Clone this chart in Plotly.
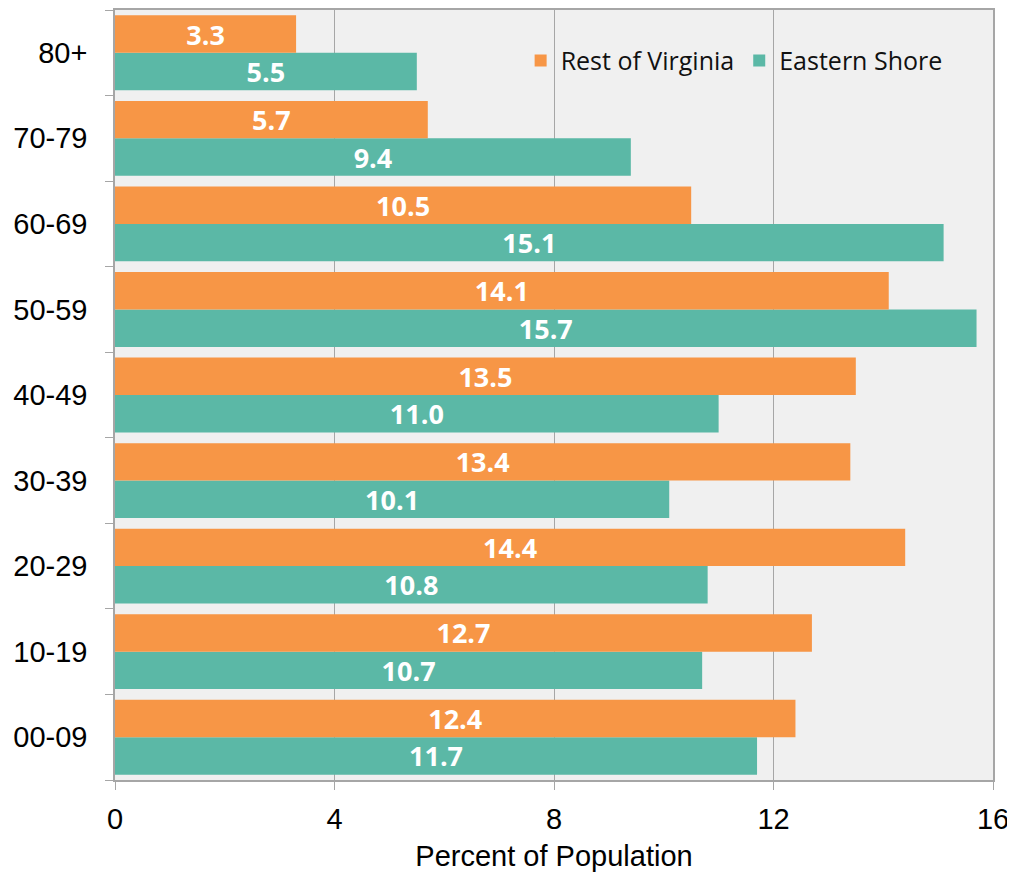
import plotly.graph_objects as go

age_groups = ["00-09", "10-19", "20-29", "30-39", "40-49", "50-59", "60-69", "70-79", "80+"]
rest_of_virginia = [12.4, 12.7, 14.4, 13.4, 13.5, 14.1, 10.5, 5.7, 3.3]
eastern_shore = [11.7, 10.7, 10.8, 10.1, 11.0, 15.7, 15.1, 9.4, 5.5]
x_ticks = [0, 4, 8, 12, 16]

ORANGE = "#F79646"
TEAL = "#5BB8A6"
label_font = dict(family="Open Sans", size=27, color="white", weight="bold")

fig = go.Figure()
fig.add_trace(go.Bar(
    y=age_groups, x=eastern_shore, orientation="h", name="Eastern Shore",
    marker=dict(color=TEAL, line=dict(width=0)),
    text=[f"{v:.1f}" for v in eastern_shore], textposition="inside",
    insidetextanchor="middle", textfont=label_font, legendrank=2,
    textangle=0, constraintext="none",
))
fig.add_trace(go.Bar(
    y=age_groups, x=rest_of_virginia, orientation="h", name="Rest of Virginia",
    marker=dict(color=ORANGE, line=dict(width=0)),
    text=[f"{v:.1f}" for v in rest_of_virginia], textposition="inside",
    insidetextanchor="middle", textfont=label_font, legendrank=1,
    textangle=0, constraintext="none",
))

fig.update_layout(
    width=1007, height=864,
    margin=dict(l=107, r=22, t=2, b=92, autoexpand=False),
    barmode="group", bargap=0.125, bargroupgap=0,
    plot_bgcolor="#F0F0F0", paper_bgcolor="white",
    legend=dict(
        orientation="h", x=0.462, y=0.934, xanchor="left", yanchor="middle",
        bgcolor="rgba(0,0,0,0)", font=dict(family="Open Sans", size=25, color="#111"),
        itemwidth=30, tracegroupgap=0,
    ),
    xaxis=dict(
        range=[0, 16], tickvals=x_ticks, ticktext=[str(t) for t in x_ticks],
        showgrid=True, gridcolor="#A6A6A6", gridwidth=1,
        showline=True, linecolor="#A6A6A6", linewidth=1.5, mirror=True,
        ticks="outside", ticklen=8, tickcolor="#A6A6A6",
        tickfont=dict(family="Liberation Sans", size=29, color="black"),
        ticklabelstandoff=4,
        zeroline=False, automargin=False,
        title=dict(text="Percent of Population", standoff=14,
                   font=dict(family="Liberation Sans", size=29, color="black")),
    ),
    yaxis=dict(
        type="category", categoryorder="array", categoryarray=age_groups,
        showline=True, linecolor="#A6A6A6", linewidth=1.5, mirror=True,
        ticks="outside", ticklen=8, tickcolor="#A6A6A6", tickson="boundaries",
        tickfont=dict(family="Liberation Sans", size=29, color="black"),
        ticklabelstandoff=20, automargin=False,
        showgrid=False,
    ),
)

fig.write_html("out.html")
